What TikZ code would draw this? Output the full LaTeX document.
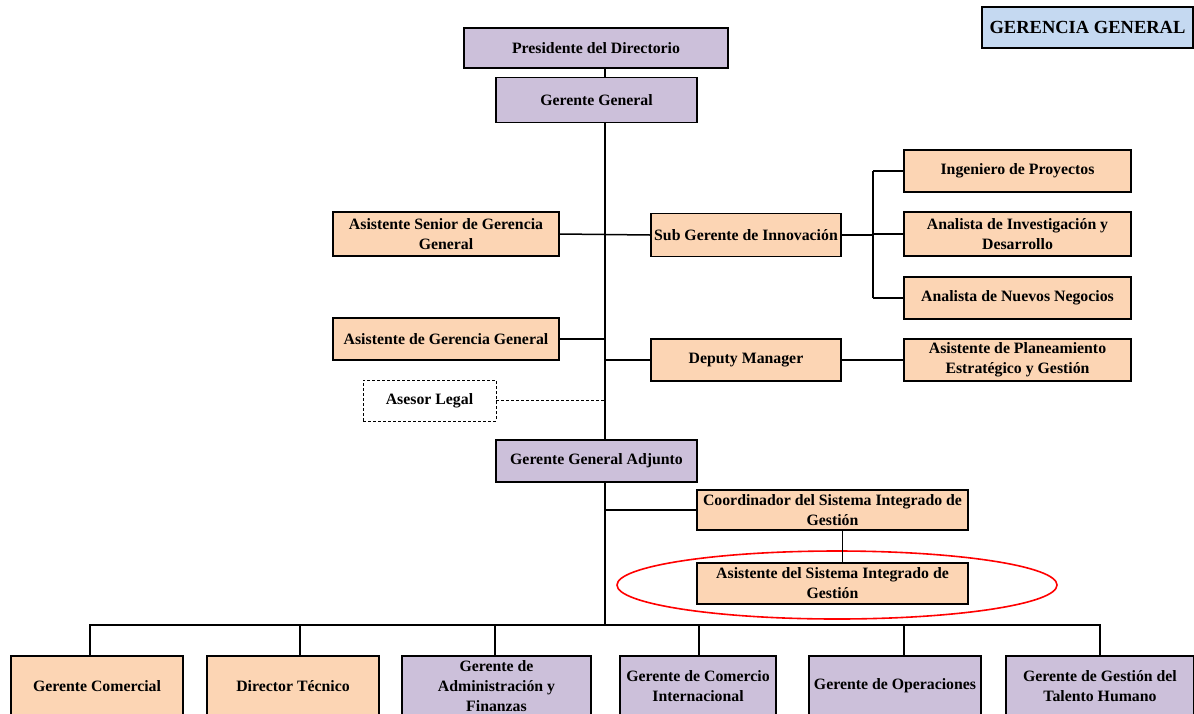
\documentclass[tikz,border=0pt]{standalone}
\usepackage{fontspec}
\setmainfont{Liberation Serif}

\definecolor{lila}{HTML}{CCC0DA}
\definecolor{durazno}{HTML}{FCD5B4}
\definecolor{celeste}{HTML}{C5D9F1}

\tikzset{
  caja/.style={draw, line width=1.5pt, inner sep=2pt, align=center,
    font=\bfseries\fontsize{15.8}{20}\selectfont},
  morado/.style={caja, fill=lila},
  naranja/.style={caja, fill=durazno},
  linea/.style={line width=1.5pt},
}

\begin{document}
\begin{tikzpicture}[x=1pt, y=-1pt]

  \useasboundingbox (0,0) rectangle (1194,713);

  % direccion
  \node[caja, fill=celeste, minimum width=211pt, minimum height=41pt,
    font=\bfseries\fontsize{18.5}{22}\selectfont] (gerencia) at (1087.5,27.5) {GERENCIA GENERAL};
  \node[morado, minimum width=264pt, minimum height=40pt] (pres) at (596,48) {Presidente del Directorio};
  \node[morado, minimum width=201pt, minimum height=45pt] (gg) at (596.5,100) {Gerente General};

  % staff
  \node[naranja, minimum width=226pt, minimum height=44pt] (asg) at (446,234) {Asistente Senior de Gerencia\\General};
  \node[naranja, minimum width=190pt, minimum height=43pt] (sgi) at (746,235) {Sub Gerente de Innovación};
  \node[naranja, minimum width=227pt, minimum height=42pt] (ip) at (1017.5,171) {Ingeniero de Proyectos};
  \node[naranja, minimum width=227pt, minimum height=44pt] (aid) at (1017.5,234) {Analista de Investigación y\\Desarrollo};
  \node[naranja, minimum width=227pt, minimum height=42pt] (ann) at (1017.5,298) {Analista de Nuevos Negocios};
  \node[naranja, minimum width=226pt, minimum height=42pt] (agg) at (446,339) {Asistente de Gerencia General};
  \node[naranja, minimum width=190pt, minimum height=42pt] (dm) at (746,360) {Deputy Manager};
  \node[naranja, minimum width=227pt, minimum height=42pt] (ape) at (1017.5,360) {Asistente de Planeamiento\\Estratégico y Gestión};
  \node[caja, fill=white, line width=0.9pt, densely dashed, minimum width=133pt, minimum height=41pt] (al) at (429.5,400.5) {Asesor Legal};

  % adjunto
  \node[morado, minimum width=201pt, minimum height=42pt] (gga) at (596.5,461) {Gerente General Adjunto};
  \node[naranja, minimum width=271pt, minimum height=40pt] (cor) at (832.5,510) {Coordinador del Sistema Integrado de\\Gestión};
  \node[naranja, minimum width=271pt, minimum height=41pt] (asi) at (832.5,583.5) {Asistente del Sistema Integrado de\\Gestión};
  \draw[red, line width=1.6pt] (837,585) ellipse [x radius=220pt, y radius=34pt];

  % gerencias de linea
  \node[naranja, minimum width=172pt, minimum height=60pt] (gc) at (97,686) {Gerente Comercial};
  \node[naranja, minimum width=172pt, minimum height=60pt] (dt) at (293,686) {Director Técnico};
  \node[morado, minimum width=189pt, minimum height=60pt] (gaf) at (496.5,686) {Gerente de\\Administración y\\Finanzas};
  \node[morado, minimum width=156pt, minimum height=60pt] (gci) at (698,686) {Gerente de Comercio\\Internacional};
  \node[morado, minimum width=172pt, minimum height=60pt] (gop) at (895,686) {Gerente de Operaciones};
  \node[morado, minimum width=188pt, minimum height=60pt] (tgh) at (1100,686) {Gerente de Gestión del\\Talento Humano};

  % conectores
  \coordinate (eje) at (605,0);
  \coordinate (rama) at (873,0);
  \coordinate (bus) at (605,625);

  \draw[linea] (pres.south -| eje) -- (gg.north -| eje);
  \draw[linea] (gg.south -| eje) -- (gga.north -| eje);
  \draw[linea] (gga.south -| eje) -- (bus);
  \draw[linea] (asg.east) -- (sgi.west);
  \draw[linea] (agg.east) -- (agg.east -| eje);
  \draw[linea] (dm.west) -- (dm.west -| eje);
  \draw[linea] (dm.east) -- (ape.west);
  \draw[line width=0.9pt, densely dashed] (al.east) -- (al.east -| eje);
  \draw[linea] (cor.west) -- (cor.west -| eje);
  \draw[linea] ([xshift=10pt]cor.south) -- ([xshift=10pt]asi.north);

  \draw[linea] (sgi.east) -- (sgi.east -| rama);
  \draw[linea] (ip.west -| rama) -- (ann.west -| rama);
  \foreach \n in {ip,aid,ann}
    \draw[linea] (\n.west) -- (\n.west -| rama);

  \foreach \n/\d in {gc/-7,dt/7,gaf/-1.5,gci/1,gop/9,tgh/0}
    \draw[linea] ([xshift=\d pt]\n.north) |- (bus);

\end{tikzpicture}
\end{document}
